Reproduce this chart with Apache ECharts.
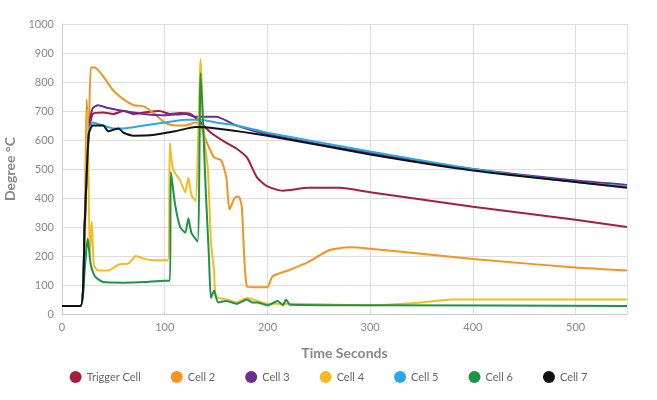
<!DOCTYPE html>
<html><head><meta charset="utf-8">
<script src="https://cdn.jsdelivr.net/npm/echarts@6/dist/echarts.min.js"></script>
<style>html,body{margin:0;padding:0;background:#fff}#c{width:657px;height:400px}</style>
</head><body><div id="c"></div>
<script>
const seriesNames=["Trigger Cell","Cell 2","Cell 3","Cell 4","Cell 5","Cell 6","Cell 7"];
const colors=["#a31f3d","#f39322","#6b2d8f","#f6bb22","#2aaae1","#1b9544","#111111"];
const triggerCell=[[0,28],[18,28],[22,300],[26,620],[30,690],[40,695],[50,690],[60,700],[70,690],[80,695],[95,700],[105,690],[115,693],[125,690],[135,660],[145,625],[160,590],[170,570],[180,540],[190,470],[200,440],[215,425],[240,435],[270,435],[300,420],[400,370],[500,325],[550,300]];
const cell2=[[0,28],[18,28],[22,300],[24,740],[26,600],[28,850],[32,850],[40,820],[50,770],[60,740],[70,720],[80,715],[90,690],[100,660],[110,650],[120,650],[130,660],[135,650],[140,600],[148,540],[155,530],[160,470],[163,360],[168,400],[172,405],[175,370],[180,95],[190,92],[200,93],[205,130],[220,150],[240,180],[260,220],[280,230],[300,225],[400,190],[500,160],[550,150]];
const cell3=[[0,28],[18,28],[22,300],[26,650],[30,710],[35,720],[45,710],[60,700],[80,690],[100,685],[120,690],[130,680],[150,680],[170,650],[200,620],[300,555],[400,500],[500,460],[550,445]];
const cell4=[[0,28],[18,28],[22,200],[25,700],[27,200],[29,320],[31,170],[35,150],[45,150],[55,170],[65,175],[72,200],[80,190],[90,185],[103,185],[105,590],[108,500],[115,460],[120,420],[123,470],[126,410],[130,390],[135,880],[138,620],[142,500],[145,250],[148,150],[150,60],[160,50],[170,40],[180,55],[190,45],[200,35],[220,35],[300,30],[350,40],[380,50],[450,50],[550,50]];
const cell5=[[0,28],[18,28],[22,300],[26,620],[30,660],[40,650],[50,640],[60,640],[80,650],[100,660],[120,670],[135,670],[150,660],[170,650],[200,625],[300,560],[400,500],[500,455],[550,440]];
const cell6=[[0,28],[18,28],[22,150],[25,260],[28,170],[32,130],[40,110],[60,108],[80,110],[100,115],[105,115],[106,490],[110,380],[115,300],[120,280],[123,330],[126,280],[132,250],[135,830],[140,420],[143,200],[145,55],[148,80],[152,40],[160,45],[170,35],[180,50],[185,40],[190,40],[200,30],[210,45],[215,30],[218,50],[222,32],[300,30],[550,28]];
const cell7=[[0,28],[18,28],[22,300],[26,620],[30,650],[40,650],[45,630],[55,640],[60,625],[70,615],[90,618],[110,630],[130,645],[150,640],[200,615],[300,550],[400,495],[500,455],[550,435]];
const allData=[triggerCell,cell2,cell3,cell4,cell5,cell6,cell7];
const ch=echarts.init(document.getElementById('c'));
ch.setOption({
  color:colors,animation:false,
  grid:{left:62,right:30,top:24,bottom:86,containLabel:false,outerBoundsMode:'none'},
  legend:{bottom:12,left:'center',icon:'circle',itemWidth:12,itemHeight:12,itemGap:30,
    textStyle:{color:'#666',fontSize:11,fontFamily:'Lato'},data:seriesNames},
  xAxis:{type:'value',min:0,max:550,interval:100,name:'Time Seconds',nameLocation:'middle',nameGap:32,
    nameTextStyle:{color:'#888',fontSize:14,fontWeight:'bold',fontFamily:'Lato'},
    axisLine:{lineStyle:{color:'#ccc'}},axisTick:{show:false},
    axisLabel:{color:'#888',fontSize:11,fontFamily:'Lato',showMaxLabel:false},
    splitLine:{lineStyle:{color:'#ddd'}}},
  yAxis:{type:'value',min:0,max:1000,interval:100,name:'Degree °C',nameLocation:'middle',nameGap:40,
    nameTextStyle:{color:'#888',fontSize:14,fontWeight:'bold',fontFamily:'Lato'},
    axisLine:{show:true,lineStyle:{color:'#ccc'}},axisTick:{show:false},
    axisLabel:{color:'#888',fontSize:11,fontFamily:'Lato',formatter:v=>String(v)},
    splitLine:{lineStyle:{color:'#ddd'}}},
  series:seriesNames.map((n,i)=>({name:n,type:'line',data:allData[i],showSymbol:false,smooth:0.2,lineStyle:{width:2}}))
});
</script></body></html>
